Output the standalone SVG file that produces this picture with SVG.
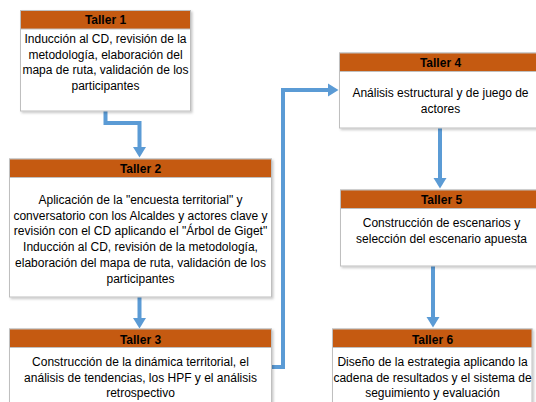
<svg xmlns="http://www.w3.org/2000/svg" width="536" height="402" viewBox="0 0 536 402">
<style>
.body{fill:#fff;stroke:#bfbfbf;stroke-width:1}
.hdr{fill:#c55a11;stroke:#bfbfbf;stroke-width:1}
.ht{font-family:"Liberation Sans",Arial,sans-serif;font-size:12px;font-weight:bold;fill:#000;text-anchor:middle}
.bt{font-family:"Liberation Sans",Arial,sans-serif;font-size:12px;fill:#000;text-anchor:middle}
.conn{fill:none;stroke:#5b9bd5;stroke-width:4;stroke-linejoin:miter}
</style>
<defs>
<filter id="sh" x="-10%" y="-10%" width="120%" height="130%">
<feDropShadow dx="1.5" dy="1.5" stdDeviation="1" flood-color="#000" flood-opacity="0.22"/>
</filter>
<marker id="ah" markerUnits="userSpaceOnUse" markerWidth="12" markerHeight="14" viewBox="0 -7 11 14" refX="0" refY="0" orient="auto">
<path d="M0,-6.5 L10.5,0 L0,6.5 z" fill="#5b9bd5"/>
</marker>
</defs>
<rect width="536" height="402" fill="#fff"/>

<g id="connectors">
<path class="conn" d="M105.5,111 V123 H139.5 V147" marker-end="url(#ah)"/>
<path class="conn" d="M139.5,297 V318" marker-end="url(#ah)"/>
<path class="conn" d="M271,367 H283 V90 H328" marker-end="url(#ah)"/>
<path class="conn" d="M440,128 V178" marker-end="url(#ah)"/>
<path class="conn" d="M433,266 V317" marker-end="url(#ah)"/>
</g>

<g id="taller1">
<rect class="body" x="20.5" y="10.5" width="170" height="100.5" filter="url(#sh)"/>
<rect class="hdr" x="20.5" y="10.5" width="170" height="18.5"/>
<text class="ht" x="105.5" y="24">Taller 1</text>
<text class="bt" x="105.5" y="43">Inducción al CD, revisión de la</text>
<text class="bt" x="105.5" y="58.7">metodología, elaboración del</text>
<text class="bt" x="105.5" y="74.4">mapa de ruta, validación de los</text>
<text class="bt" x="105.5" y="90">participantes</text>
</g>

<g id="taller2">
<rect class="body" x="9.5" y="159" width="262" height="138" filter="url(#sh)"/>
<rect class="hdr" x="9.5" y="159" width="262" height="18.5"/>
<text class="ht" x="140.5" y="172.5">Taller 2</text>
<text class="bt" x="140.5" y="204">Aplicación de la "encuesta territorial" y</text>
<text class="bt" x="140.5" y="219.7">conversatorio con los Alcaldes y actores clave y</text>
<text class="bt" x="140.5" y="235.4">revisión con el CD aplicando el "Árbol de Giget"</text>
<text class="bt" x="140.5" y="251.1">Inducción al CD, revisión de la metodología,</text>
<text class="bt" x="140.5" y="266.8">elaboración del mapa de ruta, validación de los</text>
<text class="bt" x="140.5" y="282.5">participantes</text>
</g>

<g id="taller3">
<rect class="body" x="9.5" y="329" width="262" height="90" filter="url(#sh)"/>
<rect class="hdr" x="9.5" y="329" width="262" height="18.5"/>
<text class="ht" x="140.5" y="343.5">Taller 3</text>
<text class="bt" x="140.5" y="366">Construcción de la dinámica territorial, el</text>
<text class="bt" x="140.5" y="381.7">análisis de tendencias, los HPF y el análisis</text>
<text class="bt" x="140.5" y="397.4">retrospectivo</text>
</g>

<g id="taller4">
<rect class="body" x="339.5" y="53" width="202" height="75" filter="url(#sh)"/>
<rect class="hdr" x="339.5" y="53" width="202" height="18.5"/>
<text class="ht" x="440.5" y="67">Taller 4</text>
<text class="bt" x="440.5" y="97">Análisis estructural y de juego de</text>
<text class="bt" x="440.5" y="112.7">actores</text>
</g>

<g id="taller5">
<rect class="body" x="340.5" y="190" width="202" height="76" filter="url(#sh)"/>
<rect class="hdr" x="340.5" y="190" width="202" height="18.5"/>
<text class="ht" x="441.5" y="204">Taller 5</text>
<text class="bt" x="441.5" y="227">Construcción de escenarios y</text>
<text class="bt" x="441.5" y="243">selección del escenario apuesta</text>
</g>

<g id="taller6">
<rect class="body" x="332.5" y="329" width="199.5" height="90" filter="url(#sh)"/>
<rect class="hdr" x="332.5" y="329" width="199.5" height="18.5"/>
<text class="ht" x="432.5" y="343.5">Taller 6</text>
<text class="bt" x="432.5" y="366">Diseño de la estrategia aplicando la</text>
<text class="bt" x="432.5" y="381.7">cadena de resultados y el sistema de</text>
<text class="bt" x="432.5" y="397.4">seguimiento y evaluación</text>
</g>
</svg>
